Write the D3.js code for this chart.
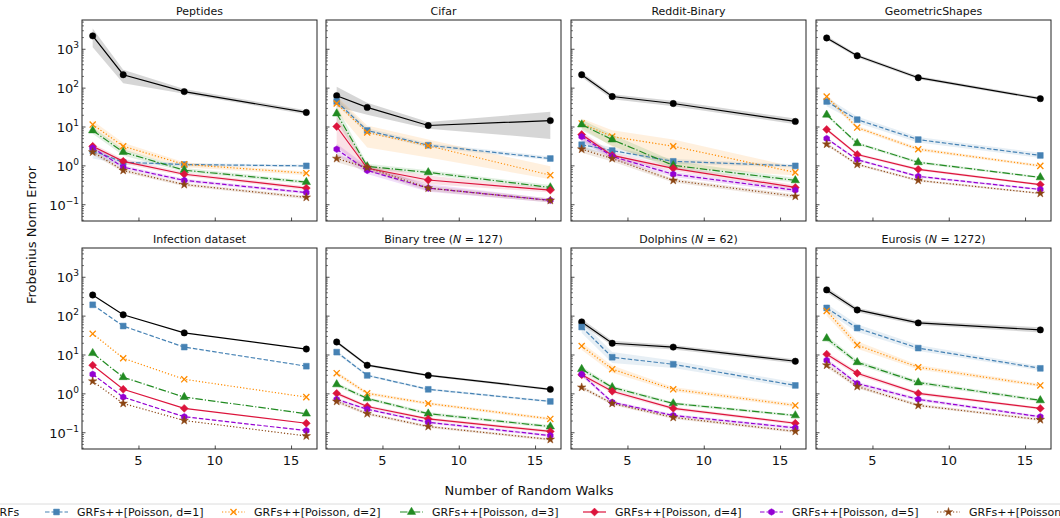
<!DOCTYPE html>
<html>
<head>
<meta charset="utf-8">
<script src="https://cdn.jsdelivr.net/npm/d3@7"></script>
<style>
  body { margin: 0; background: #fff; }
  text { font-family: "DejaVu Sans", sans-serif; fill: #111; }
</style>
</head>
<body>
<div id="chart"></div>
<script>
// ---- data ----
const walks = [2, 4, 8, 16];
const xTicks = [5, 10, 15];
const yTickLabels = [0.1, 1, 10, 100, 1000];

const seriesNames = ["GRFs", "GRFs++[Poisson, d=1]", "GRFs++[Poisson, d=2]", "GRFs++[Poisson, d=3]",
                     "GRFs++[Poisson, d=4]", "GRFs++[Poisson, d=5]", "GRFs++[Poisson, d=6]"];
const seriesColors = ["#000000", "#4682B4", "#FF8C00", "#228B22", "#DC143C", "#9400D3", "#8B4513"];
const seriesMarkers = ["circle", "square", "x", "triangle", "diamond", "hexagon", "star"];
const seriesDash = [null, "4.5,2", "1.2,2", "7.5,2,1.2,2", null, "4.5,2", "1.2,2"];

const titleNames = ["Peptides", "Cifar", "Reddit-Binary", "GeometricShapes",
                    "Infection dataset", "Binary tree", "Dolphins", "Eurosis"];
const titleN = [null, null, null, null, null, 127, 62, 1272];

const peptidesMean = [
  [2150, 215, 79, 23], [2.4, 1.2, 1.05, 0.97], [11.2, 3.1, 1.06, 0.63], [7.9, 2.2, 0.75, 0.37],
  [3.1, 1.27, 0.59, 0.26], [2.8, 0.9, 0.41, 0.20], [2.2, 0.74, 0.32, 0.15]];
const peptidesLow = [
  [1100, 130, 70, 20.5], [1.5, 1.05, 0.95, 0.9], [8.5, 2.4, 0.9, 0.56], [6.5, 1.8, 0.67, 0.33],
  [2.6, 1.1, 0.53, 0.23], [2.3, 0.8, 0.37, 0.18], [1.9, 0.66, 0.29, 0.135]];
const peptidesHigh = [
  [3300, 290, 92, 26], [3.0, 1.35, 1.15, 1.05], [14, 3.8, 1.2, 0.7], [9.5, 2.6, 0.85, 0.41],
  [3.6, 1.45, 0.66, 0.29], [3.3, 1.0, 0.45, 0.22], [2.5, 0.82, 0.35, 0.165]];

const cifarMean = [
  [62, 31, 10.6, 14.2], [44, 7.9, 3.3, 1.5], [39, 7.0, 3.2, 0.56], [21.5, 0.94, 0.66, 0.27],
  [10, 0.84, 0.42, 0.23], [2.6, 0.74, 0.26, 0.126], [1.5, 0.88, 0.26, 0.125]];
const cifarLow = [
  [32, 20, 8.8, 4.8], [36, 6.8, 2.9, 1.35], [25, 2.9, 1.6, 0.44], [13, 0.8, 0.58, 0.24],
  [3, 0.7, 0.33, 0.2], [1.8, 0.6, 0.21, 0.11], [1.2, 0.72, 0.22, 0.11]];
const cifarHigh = [
  [105, 41, 13, 24], [54, 9.2, 3.7, 1.7], [60, 10.6, 4.6, 0.95], [33, 1.1, 0.75, 0.31],
  [18, 1.0, 0.55, 0.26], [3.6, 0.95, 0.33, 0.14], [1.9, 1.05, 0.3, 0.14]];

const redditMean = [
  [215, 59, 39, 13.5], [3.4, 2.4, 1.27, 0.97], [12, 5.5, 3.1, 0.66], [11.2, 4.6, 1.0, 0.41],
  [6.2, 1.8, 0.84, 0.27], [5.5, 1.7, 0.59, 0.23], [2.6, 1.5, 0.41, 0.16]];
const redditLow = [
  [185, 50, 33, 11.5], [2.5, 2.0, 1.1, 0.88], [9, 3.0, 0.9, 0.55], [8, 3.2, 0.8, 0.36],
  [4.8, 1.5, 0.72, 0.24], [4.2, 1.4, 0.5, 0.2], [2.1, 1.25, 0.36, 0.14]];
const redditHigh = [
  [250, 68, 46, 16], [4.4, 2.9, 1.45, 1.07], [16, 8.0, 4.6, 0.9], [15, 6.2, 1.3, 0.47],
  [7.6, 2.1, 0.98, 0.31], [6.8, 2.0, 0.68, 0.26], [3.1, 1.75, 0.46, 0.18]];

const geometricMean = [
  [1900, 660, 180, 52], [44, 15, 4.6, 1.8], [59, 9.4, 2.6, 0.97], [20, 3.7, 1.2, 0.49],
  [8.4, 1.9, 0.79, 0.32], [4.9, 1.4, 0.52, 0.24], [3.5, 1.06, 0.41, 0.19]];
const geometricLow = [
  [1700, 600, 165, 48], [33, 12.5, 3.9, 1.55], [50, 8.4, 2.35, 0.9], [18, 3.4, 1.1, 0.46],
  [7.6, 1.75, 0.73, 0.3], [4.5, 1.3, 0.48, 0.225], [3.2, 0.98, 0.38, 0.18]];
const geometricHigh = [
  [2150, 720, 200, 57], [56, 18, 5.4, 2.1], [68, 10.5, 2.9, 1.05], [22, 4.0, 1.3, 0.52],
  [9.2, 2.05, 0.85, 0.34], [5.3, 1.5, 0.56, 0.255], [3.8, 1.14, 0.44, 0.2]];

const infectionMean = [
  [340, 105, 36, 13.8], [190, 54, 15.5, 5.0], [34, 8.0, 2.3, 0.8], [10.8, 2.6, 0.8, 0.30],
  [5.3, 1.27, 0.41, 0.17], [3.1, 0.8, 0.25, 0.11], [2.05, 0.55, 0.2, 0.08]];

const binaryMean = [
  [21, 5.3, 2.9, 1.27], [11.5, 2.9, 1.27, 0.62], [3.3, 1.0, 0.55, 0.22], [1.7, 0.74, 0.30, 0.14],
  [1.0, 0.46, 0.22, 0.105], [0.7, 0.39, 0.18, 0.082], [0.62, 0.30, 0.14, 0.065]];
const binaryLow = [
  [19, 4.9, 2.7, 1.18], [10.3, 2.7, 1.18, 0.58], [2.9, 0.9, 0.5, 0.2], [1.5, 0.67, 0.27, 0.127],
  [0.88, 0.42, 0.2, 0.095], [0.63, 0.36, 0.165, 0.075], [0.56, 0.275, 0.128, 0.06]];
const binaryHigh = [
  [23, 5.7, 3.1, 1.36], [12.7, 3.1, 1.36, 0.66], [3.7, 1.1, 0.6, 0.24], [1.9, 0.81, 0.33, 0.153],
  [1.12, 0.5, 0.24, 0.115], [0.77, 0.42, 0.195, 0.089], [0.68, 0.325, 0.152, 0.07]];

const dolphinsMean = [
  [69, 19.5, 15.5, 6.7], [51, 8.5, 5.6, 1.6], [16.5, 4.2, 1.27, 0.49], [4.2, 1.43, 0.55, 0.27],
  [3.0, 1.13, 0.41, 0.17], [3.1, 0.59, 0.27, 0.13], [1.43, 0.55, 0.24, 0.105]];
const dolphinsLow = [
  [58, 17, 13.5, 5.9], [36, 6, 4.5, 1.35], [13, 3.4, 1.12, 0.44], [3.6, 1.25, 0.5, 0.25],
  [2.6, 1.0, 0.37, 0.155], [2.7, 0.53, 0.245, 0.118], [1.27, 0.5, 0.22, 0.096]];
const dolphinsHigh = [
  [82, 22.5, 17.5, 7.6], [70, 11.6, 7, 1.9], [20, 5.2, 1.45, 0.55], [4.9, 1.6, 0.6, 0.29],
  [3.4, 1.27, 0.45, 0.185], [3.5, 0.65, 0.295, 0.142], [1.6, 0.6, 0.26, 0.114]];

const eurosisMean = [
  [460, 140, 65, 43], [158, 48, 14.6, 4.4], [132, 17.5, 4.7, 1.6], [26, 6.3, 1.9, 0.66],
  [10.2, 3.3, 1.0, 0.41], [7.1, 1.8, 0.7, 0.25], [5.3, 1.5, 0.49, 0.21]];
const eurosisLow = [
  [390, 122, 57, 37], [125, 38, 12.3, 3.9], [100, 14, 4.1, 1.45], [22, 5.5, 1.7, 0.6],
  [8.8, 2.9, 0.9, 0.38], [6.2, 1.6, 0.63, 0.23], [4.6, 1.35, 0.45, 0.195]];
const eurosisHigh = [
  [540, 160, 74, 50], [200, 60, 17.5, 5], [170, 22, 5.4, 1.78], [31, 7.2, 2.1, 0.72],
  [11.8, 3.7, 1.1, 0.44], [8.1, 2.0, 0.77, 0.27], [6.1, 1.68, 0.54, 0.225]];

const panelMeans = [peptidesMean, cifarMean, redditMean, geometricMean,
                    infectionMean, binaryMean, dolphinsMean, eurosisMean];
const panelLows = [peptidesLow, cifarLow, redditLow, geometricLow, null, binaryLow, dolphinsLow, eurosisLow];
const panelHighs = [peptidesHigh, cifarHigh, redditHigh, geometricHigh, null, binaryHigh, dolphinsHigh, eurosisHigh];

// ---- layout ----
const W = 1060, H = 518;
const colLefts = [82, 326, 571, 816];
const rowTops = [20, 248];
const pw = 235, ph = 201;
const legendHandleX = [-41, 45, 222, 400, 583, 760, 937];

const svg = d3.select("#chart").append("svg")
  .attr("width", W).attr("height", H);

const x = d3.scaleLinear().domain([1.3, 16.7]).range([0, pw]);
const y = d3.scaleLog().domain([0.037, 5500]).range([ph, 0]);

const hexagon = {
  draw(ctx, size) {
    const r = Math.sqrt(size / (1.5 * Math.sqrt(3)));
    for (let i = 0; i < 6; i++) {
      const a = Math.PI / 6 + i * Math.PI / 3;
      if (i === 0) ctx.moveTo(r * Math.cos(a), r * Math.sin(a));
      else ctx.lineTo(r * Math.cos(a), r * Math.sin(a));
    }
    ctx.closePath();
  }
};
const symbolFor = {
  circle: d3.symbol(d3.symbolCircle, 32),
  square: d3.symbol(d3.symbolSquare, 34),
  x: d3.symbol(d3.symbolTimes || d3.symbolX, 26),
  triangle: d3.symbol(d3.symbolTriangle, 30),
  diamond: d3.symbol(d3.symbolDiamond2, 40),
  hexagon: d3.symbol(hexagon, 28),
  star: d3.symbol(d3.symbolStar, 22)
};

function drawMarker(g, i, px, py) {
  const m = seriesMarkers[i];
  const p = g.append("path")
    .attr("d", symbolFor[m]())
    .attr("transform", `translate(${px},${py})`);
  if (m === "x") p.attr("fill", "none").attr("stroke", seriesColors[i]).attr("stroke-width", 1.3);
  else p.attr("fill", seriesColors[i]).attr("stroke", seriesColors[i]).attr("stroke-width", 0.5);
}

const allTicks = y.ticks();
const majorTicks = allTicks.filter(t => Math.abs(Math.log10(t) - Math.round(Math.log10(t))) < 1e-9);
const minorTicks = allTicks.filter(t => !majorTicks.includes(t));

panelMeans.forEach((means, p) => {
  const row = Math.floor(p / 4), col = p % 4;
  const g = svg.append("g").attr("transform", `translate(${colLefts[col]},${rowTops[row]})`);

  // title
  const t = g.append("text").attr("x", pw / 2).attr("y", -5.5)
    .attr("text-anchor", "middle").style("font-size", "11px").text(titleNames[p]);
  if (titleN[p] !== null) {
    t.append("tspan").text(" (");
    t.append("tspan").style("font-style", "italic").text("N");
    t.append("tspan").text(" = " + titleN[p] + ")");
  }

  const clip = "clip" + p;
  g.append("clipPath").attr("id", clip).append("rect").attr("width", pw).attr("height", ph);
  const plot = g.append("g").attr("clip-path", `url(#${clip})`);

  // bands
  if (panelLows[p]) {
    means.forEach((s, i) => {
      const lo = panelLows[p][i], hi = panelHighs[p][i];
      const area = d3.area()
        .x((d, k) => x(walks[k]))
        .y0((d, k) => y(lo[k]))
        .y1((d, k) => y(hi[k]));
      plot.append("path").datum(walks).attr("d", area)
        .attr("fill", seriesColors[i]).attr("fill-opacity", i === 0 ? 0.16 : 0.13);
    });
  }

  // lines + markers
  means.forEach((s, i) => {
    const line = d3.line().x((d, k) => x(walks[k])).y(d => y(d));
    plot.append("path").datum(s).attr("d", line)
      .attr("fill", "none").attr("stroke", seriesColors[i])
      .attr("stroke-width", 1.2)
      .attr("stroke-dasharray", seriesDash[i]);
    s.forEach((v, k) => drawMarker(plot, i, x(walks[k]), y(v)));
  });

  // y ticks (inward)
  g.append("g").call(d3.axisLeft(y).tickValues(majorTicks).tickSize(-3.5).tickFormat(""))
    .call(a => a.select(".domain").remove())
    .selectAll("line").attr("stroke", "#222").attr("stroke-width", 0.8);
  g.append("g").call(d3.axisLeft(y).tickValues(minorTicks).tickSize(-2).tickFormat(""))
    .call(a => a.select(".domain").remove())
    .selectAll("line").attr("stroke", "#222").attr("stroke-width", 0.6);

  // x ticks (inward)
  g.append("g").attr("transform", `translate(0,${ph})`)
    .call(d3.axisBottom(x).tickValues(xTicks).tickSize(-3.5).tickFormat(""))
    .call(a => a.select(".domain").remove())
    .selectAll("line").attr("stroke", "#222").attr("stroke-width", 0.8);

  // frame
  g.append("rect").attr("width", pw).attr("height", ph)
    .attr("fill", "none").attr("stroke", "#222").attr("stroke-width", 1);

  if (col === 0) {
    yTickLabels.forEach(v => {
      const e = Math.round(Math.log10(v));
      const lt = g.append("text").attr("x", -3).attr("y", y(v) + 5.5)
        .attr("text-anchor", "end").style("font-size", "13px");
      lt.append("tspan").text("10");
      lt.append("tspan").attr("dy", -6).style("font-size", "9px")
        .text(e < 0 ? "\u2212" + (-e) : String(e));
    });
  }
  if (row === 1) {
    xTicks.forEach(v => {
      g.append("text").attr("x", x(v)).attr("y", ph + 16)
        .attr("text-anchor", "middle").style("font-size", "13px").text(v);
    });
  }
});

// axis labels
svg.append("text").attr("x", 529).attr("y", 495)
  .attr("text-anchor", "middle").style("font-size", "13px").text("Number of Random Walks");
svg.append("text").attr("transform", "translate(36,235) rotate(-90)")
  .attr("text-anchor", "middle").style("font-size", "13px").text("Frobenius Norm Error");

// legend (wider than the page, clipped at both sides)
svg.append("rect").attr("x", -80).attr("y", 504).attr("width", W + 160).attr("height", 40)
  .attr("rx", 3).attr("fill", "#fff").attr("stroke", "#dcdcdc").attr("stroke-width", 1);
seriesNames.forEach((name, i) => {
  const hx = legendHandleX[i], hy = 512;
  const lg = svg.append("g");
  lg.append("line").attr("x1", hx).attr("x2", hx + 23).attr("y1", hy).attr("y2", hy)
    .attr("stroke", seriesColors[i]).attr("stroke-width", 1.2)
    .attr("stroke-dasharray", seriesDash[i]);
  drawMarker(lg, i, hx + 11.5, hy);
  lg.append("text").attr("x", hx + 32).attr("y", 516)
    .style("font-size", "11px").text(name);
});
</script>
</body>
</html>
